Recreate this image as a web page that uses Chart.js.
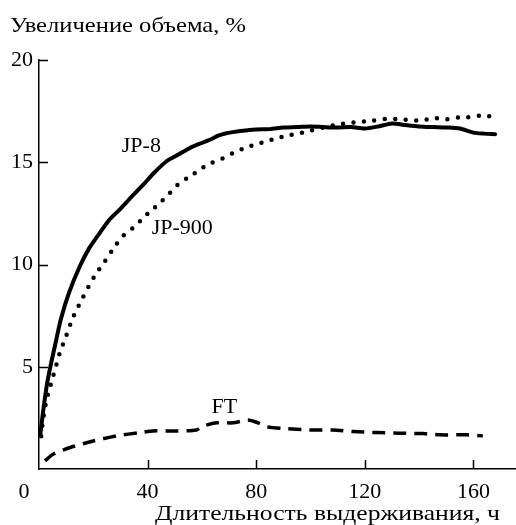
<!DOCTYPE html>
<html>
<head>
<meta charset="utf-8">
<script src="https://cdn.jsdelivr.net/npm/chart.js@4/dist/chart.umd.min.js"></script>
<style>
  html, body { margin: 0; padding: 0; background: #fff; }
  #wrap { width: 516px; height: 525px; }
</style>
</head>
<body>
<div id="wrap"><canvas id="c" width="516" height="525"></canvas></div>
<script>
// Volume swell of elastomer samples in three fuels vs. exposure time
const jp8Hours = [0.5, 1.5, 3, 4.5, 6, 8, 11, 15, 18.5, 22.4, 26, 29.8, 34, 38.4, 42.5, 47, 51, 55.6, 59, 62.9, 66, 69, 72.8, 76, 80, 85, 90, 95, 100, 105, 110, 115, 120, 125, 130, 135, 140, 145, 150, 155, 160, 164, 168];
const jp8Values = [1.7, 2.8, 4.2, 5.2, 6.1, 7.3, 8.6, 9.9, 10.8, 11.55, 12.2, 12.7, 13.3, 13.9, 14.5, 15.05, 15.35, 15.7, 15.9, 16.1, 16.3, 16.42, 16.5, 16.55, 16.6, 16.62, 16.7, 16.72, 16.75, 16.72, 16.7, 16.72, 16.65, 16.75, 16.9, 16.82, 16.75, 16.72, 16.7, 16.65, 16.45, 16.4, 16.37];

const jp900Hours = [0.8, 1.5, 2.8, 4.7, 6.5, 7.7, 9.6, 12.5, 16.2, 20.6, 24, 28, 31, 34.7, 37.8, 40.9, 44.5, 48.2, 51.9, 55.6, 59.3, 63.6, 67.8, 71.5, 75.8, 79.5, 83.2, 87, 91.2, 95.4, 100, 105, 110.8, 116, 123, 127.4, 133, 139, 146.4, 150, 154.9, 158, 162.3, 167];
const jp900Values = [1.6, 2.4, 3.4, 4.3, 5.15, 5.7, 6.35, 7.4, 8.4, 9.47, 10.1, 10.9, 11.4, 11.8, 12.2, 12.6, 13.0, 13.5, 14.0, 14.3, 14.65, 14.97, 15.2, 15.45, 15.7, 15.86, 16.0, 16.15, 16.3, 16.4, 16.55, 16.7, 16.86, 16.95, 17.04, 17.12, 17.1, 17.04, 17.15, 17.1, 17.2, 17.2, 17.28, 17.23];

const ftHours = [2.2, 5.3, 11.4, 20, 28.6, 37.2, 42, 50.7, 58, 60.5, 65.4, 71.5, 77, 80.7, 83.8, 89.9, 99.7, 108.3, 115.7, 124.3, 132.9, 141.4, 147.6, 157.4, 163.5];
const ftValues = [0.4, 0.73, 1.05, 1.37, 1.62, 1.78, 1.86, 1.86, 1.91, 2.1, 2.26, 2.26, 2.4, 2.26, 2.07, 1.98, 1.91, 1.91, 1.83, 1.78, 1.75, 1.73, 1.67, 1.67, 1.62];

const xTickValues = [40, 80, 120, 160];
const yTickValues = [5, 10, 15, 20];

// Curve labels: [text, hours, value] anchoring the left end of the text baseline
const curveLabels = [
  ['JP-8', 30.5, 15.5],
  ['JP-900', 41.5, 11.5],
  ['FT', 63.5, 2.75]
];

const yTitle = 'Увеличение объема, %';
const xTitle = 'Длительность выдерживания, ч';

const SERIF = '"Liberation Serif", "DejaVu Serif", serif';
Chart.defaults.font.family = SERIF;
Chart.defaults.color = '#000';

const toPoints = (xs, ys) => xs.map((x, i) => ({ x, y: ys[i] }));

// Draws text starting at (x, y) stretched horizontally to the given width
function wideText(ctx, text, x, y, size, width) {
  ctx.save();
  ctx.font = size + 'px ' + SERIF;
  ctx.textAlign = 'left';
  ctx.textBaseline = 'alphabetic';
  const k = width / ctx.measureText(text).width;
  ctx.translate(x, y);
  ctx.scale(k, 1);
  ctx.fillText(text, 0, 0);
  ctx.restore();
}

// Inward tick marks, curve captions, origin "0" and axis titles
const decorations = {
  id: 'decorations',
  afterDatasetsDraw(chart) {
    const { ctx, chartArea, scales } = chart;
    const xs = scales.x, ys = scales.y;
    ctx.save();
    ctx.strokeStyle = '#000';
    ctx.lineWidth = 1.5;
    ctx.beginPath();
    xTickValues.forEach(v => {
      const px = Math.round(xs.getPixelForValue(v)) + 0.5;
      ctx.moveTo(px, chartArea.bottom);
      ctx.lineTo(px, chartArea.bottom - 9);
    });
    yTickValues.forEach(v => {
      const py = Math.round(ys.getPixelForValue(v)) + 0.5;
      ctx.moveTo(chartArea.left, py);
      ctx.lineTo(chartArea.left + 9, py);
    });
    ctx.stroke();

    ctx.fillStyle = '#000';
    ctx.font = '22px ' + SERIF;
    ctx.textBaseline = 'alphabetic';
    ctx.textAlign = 'left';
    curveLabels.forEach(([t, hx, vy]) => {
      ctx.fillText(t, xs.getPixelForValue(hx), ys.getPixelForValue(vy));
    });

    ctx.textAlign = 'center';
    ctx.fillText('0', chartArea.left - 15, chartArea.bottom + 29);

    wideText(ctx, yTitle, 10, 31.5, 22, 236);
    wideText(ctx, xTitle, 155, 519.5, 21, 345);
    ctx.restore();
  }
};

new Chart(document.getElementById('c'), {
  type: 'line',
  data: {
    datasets: [
      {
        label: 'JP-8',
        data: toPoints(jp8Hours, jp8Values),
        borderColor: '#000',
        borderWidth: 4,
        pointRadius: 0,
        tension: 0.25,
        borderJoinStyle: 'round',
        borderCapStyle: 'round'
      },
      {
        label: 'JP-900',
        data: toPoints(jp900Hours, jp900Values),
        borderColor: '#000',
        borderWidth: 4.5,
        borderDash: [0, 10.5],
        borderCapStyle: 'round',
        pointRadius: 0,
        tension: 0.25
      },
      {
        label: 'FT',
        data: toPoints(ftHours, ftValues),
        borderColor: '#000',
        borderWidth: 3.5,
        borderDash: [13, 8],
        pointRadius: 0,
        tension: 0.25
      }
    ]
  },
  options: {
    responsive: false,
    animation: false,
    layout: { padding: { left: 10, right: 0, top: 60, bottom: 0 } },
    plugins: {
      legend: { display: false },
      tooltip: { enabled: false },
      title: { display: false }
    },
    scales: {
      x: {
        type: 'linear',
        min: 0,
        max: 175.7,
        afterFit(scale) { scale.height = 56; scale.paddingLeft = 0; scale.paddingRight = 0; },
        afterBuildTicks(scale) { scale.ticks = xTickValues.map(v => ({ value: v })); },
        grid: { display: false, drawTicks: false },
        border: { display: true, color: '#000', width: 1.5 },
        ticks: { font: { size: 22 }, color: '#000', padding: 10, maxRotation: 0 }
      },
      y: {
        type: 'linear',
        min: 0,
        max: 20,
        afterFit(scale) { scale.width = 29; scale.paddingTop = 0; scale.paddingBottom = 0; },
        afterBuildTicks(scale) { scale.ticks = yTickValues.map(v => ({ value: v })); },
        grid: { display: false, drawTicks: false },
        border: { display: true, color: '#000', width: 1.5 },
        ticks: { font: { size: 22 }, color: '#000', padding: 6 }
      }
    }
  },
  plugins: [decorations]
});
</script>
</body>
</html>
